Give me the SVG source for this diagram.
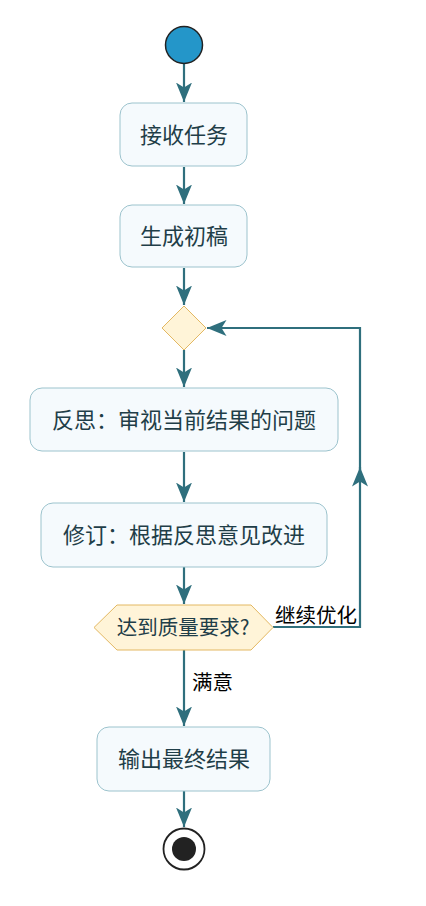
<svg xmlns="http://www.w3.org/2000/svg" width="426" height="906" viewBox="0 0 426 906">
<defs>
<marker id="arr" markerUnits="userSpaceOnUse" markerWidth="20" markerHeight="18" viewBox="0 0 20 18" refX="19.5" refY="9" orient="auto">
<path d="M19.5,9 L0,1 L5,9 L0,17 Z" fill="#2f6f7d"/>
</marker>
<style>
.box{fill:#f5fafd;stroke:#9cc3cd;stroke-width:1}
.t{font-family:"Noto Sans CJK SC","Noto Sans",sans-serif;font-size:22px;fill:#1f3e48;text-anchor:middle}
.lbl{font-family:"Noto Sans CJK SC","Noto Sans",sans-serif;font-size:20.5px;fill:#000}
.dec{fill:#fff4d8;stroke:#e3b862;stroke-width:1}
.c{fill:none;stroke:#2f6f7d;stroke-width:2.2}
</style>
</defs>
<rect width="426" height="906" fill="#ffffff"/>
<g id="connectors">
<path class="c" d="M184,64 V102" marker-end="url(#arr)"/>
<path class="c" d="M184,167 V204" marker-end="url(#arr)"/>
<path class="c" d="M184,268 V305" marker-end="url(#arr)"/>
<path class="c" d="M184,350 V387" marker-end="url(#arr)"/>
<path class="c" d="M184,452 V502" marker-end="url(#arr)"/>
<path class="c" d="M184,567 V604" marker-end="url(#arr)"/>
<path class="c" d="M184,650 V726" marker-end="url(#arr)"/>
<path class="c" d="M184,791 V827" marker-end="url(#arr)"/>
<path class="c" d="M273,627 H360 V467" marker-end="url(#arr)"/>
<path class="c" d="M360,470 V328 H207" marker-end="url(#arr)"/>
<text class="lbl" x="275" y="623">继续优化</text>
<text class="lbl" x="192" y="690">满意</text>
</g>
<g id="start"><circle cx="184" cy="45" r="18.5" fill="#2496c9" stroke="#222" stroke-width="1.5"/></g>
<g id="n1"><rect class="box" x="120" y="103" width="127" height="63" rx="12"/><text class="t" x="184" y="142.5">接收任务</text></g>
<g id="n2"><rect class="box" x="120" y="205" width="127" height="62" rx="12"/><text class="t" x="184" y="244">生成初稿</text></g>
<g id="merge"><polygon class="dec" points="184,306 206,328 184,350 162,328"/></g>
<g id="n3"><rect class="box" x="30" y="388" width="308" height="63" rx="12"/><text class="t" x="184" y="427.5">反思：审视当前结果的问题</text></g>
<g id="n4"><rect class="box" x="41" y="503" width="286" height="64" rx="12"/><text class="t" x="184" y="543">修订：根据反思意见改进</text></g>
<g id="decision"><polygon class="dec" points="94,627.5 117,605 251,605 273,627.5 251,650 117,650"/><text class="t" x="183" y="635" style="font-size:20.5px">达到质量要求?</text></g>
<g id="n5"><rect class="box" x="97" y="727" width="173" height="64" rx="12"/><text class="t" x="184" y="767">输出最终结果</text></g>
<g id="end"><circle cx="184" cy="849" r="20.5" fill="#fff" stroke="#222" stroke-width="1.8"/><circle cx="184" cy="849" r="12" fill="#222"/></g>
</svg>
